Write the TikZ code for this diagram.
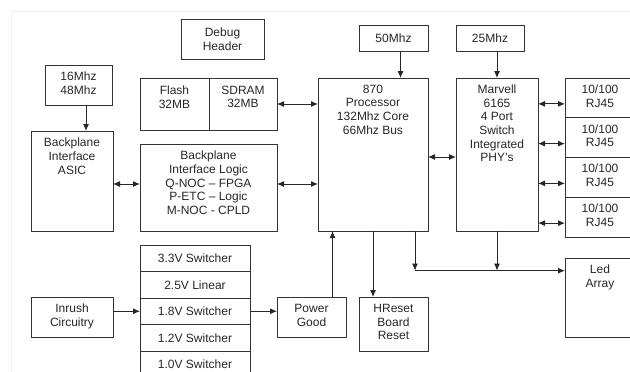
\documentclass[tikz,border=0pt]{standalone}
\usepackage{fontspec}
\setmainfont{Liberation Sans}
\usetikzlibrary{positioning,arrows.meta}

\begin{document}
\begin{tikzpicture}[x=1pt, y=-1pt, >={Latex[length=7pt,width=6pt]},
    every node/.style={font=\fontsize{12}{13.7}\selectfont, text=black!85},
    blk/.style={draw=black!80, line width=1pt, inner sep=0pt, outer sep=0pt, align=center},
    txt/.style={align=center, inner sep=0pt},
    link/.style={draw=black!85, line width=1pt}]

        \useasboundingbox (0,0) rectangle (630,372);
        \clip (0,0) rectangle (630,372);
        \draw[black!6] (11,372) -- (11,11) -- (630,11);

        % ==========================================
        % 1. Clocks and debug
        % ==========================================
        \node[blk, minimum width=83pt, minimum height=40pt] (debug) at (222.5,39) {Debug\\Header};
        \node[blk, minimum width=67pt, minimum height=40pt] (clkA) at (78.5,85) {};
        \node[txt, below=7pt of clkA.north] (tclkA) {16Mhz\\48Mhz};
        \node[blk, minimum width=69pt, minimum height=26pt] (clkB) at (393.5,38) {50Mhz};
        \node[blk, minimum width=68pt, minimum height=26pt] (clkC) at (490,38) {25Mhz};

        % ==========================================
        % 2. Memory and backplane
        % ==========================================
        \node[blk, minimum width=69pt, minimum height=52pt] (flash) at (174.5,104) {};
        \node[txt, below=7.5pt of flash.north] (tflash) {Flash\\32MB};
        \node[blk, minimum width=68pt, minimum height=52pt] (sdram) at (243,104) {};
        \node[txt, below=7.5pt of sdram.north] (tsdram) {SDRAM\\32MB};
        \node[blk, minimum width=82pt, minimum height=100pt] (asic) at (72,181) {};
        \node[txt, below=7pt of asic.north] (tasic) {Backplane\\Interface\\ASIC};
        \node[blk, minimum width=137pt, minimum height=87pt] (bpl) at (208.5,187.5) {};
        \node[txt, below=7pt of bpl.north] (tbpl) {Backplane\\Interface Logic\\Q-NOC -- FPGA\\P-ETC -- Logic\\M-NOC - CPLD};

        % ==========================================
        % 3. Processor, switch and ports
        % ==========================================
        \node[blk, minimum width=110pt, minimum height=153pt] (proc) at (373,154.5) {};
        \node[txt, below=6.5pt of proc.north] (tproc) {870\\Processor\\132Mhz Core\\66Mhz Bus};
        \node[blk, minimum width=82pt, minimum height=153pt] (marv) at (497,154.5) {};
        \node[txt, below=6.5pt of marv.north] (tmarv) {Marvell\\6165\\4 Port\\Switch\\Integrated\\PHY's};
        \foreach \i in {1,...,4} {
            \node[blk, minimum width=70pt, minimum height=39.75pt] (rj\i) at (600,{58.125+39.75*\i}) {};
            \node[txt, below=6.5pt of rj\i.north] (trj\i) {10/100\\RJ45};
        }
        \node[blk, minimum width=70pt, minimum height=79pt] (led) at (600,297.5) {};
        \node[txt, below=7pt of led.north] (tled) {Led\\Array};

        % ==========================================
        % 4. Power and reset
        % ==========================================
        \node[blk, minimum width=82pt, minimum height=40pt] (inrush) at (72,317) {};
        \node[txt, below=7pt of inrush.north] (tinrush) {Inrush\\Circuitry};
        \foreach \t [count=\i] in {3.3V Switcher,2.5V Linear,1.8V Switcher,1.2V Switcher,1.0V Switcher}
            \node[blk, minimum width=110pt, minimum height=26.5pt] (sw\i) at (195,{258.25+26.5*(\i-1)}) {\t};
        \node[blk, minimum width=69pt, minimum height=40pt] (pgood) at (311.5,317) {};
        \node[txt, below=7pt of pgood.north] (tpgood) {Power\\Good};
        \node[blk, minimum width=69pt, minimum height=54pt] (hreset) at (393.5,324) {};
        \node[txt, below=7pt of hreset.north] (threset) {HReset\\Board\\Reset};

        % ==========================================
        % 5. Connections
        % ==========================================
        \coordinate (aclk) at ([xshift=7.5pt]clkA.south);
        \coordinate (bclk) at ([xshift=7pt]clkB.south);
        \coordinate (bplL) at ([yshift=3.5pt]bpl.west);
        \coordinate (bplR) at ([yshift=3.5pt]bpl.east);
        \coordinate (pm) at ([yshift=-2.5pt]proc.east);
        \coordinate (pgup) at ([xshift=21pt]pgood.north);
        \coordinate (pdrop) at ([xshift=42pt]proc.south);
        \coordinate (ledin) at ([yshift=-12.7pt]led.north west);

        \draw[link, ->] (aclk) -- (aclk |- asic.north);
        \draw[link, ->] (bclk) -- (bclk |- proc.north);
        \draw[link, ->] (marv.north |- clkC.south) -- (marv.north);
        \draw[link, <->] (asic.east |- bplL) -- (bplL);
        \draw[link, <->] (sdram.east) -- (sdram.east -| proc.west);
        \draw[link, <->] (bplR) -- (bplR -| proc.west);
        \draw[link, <->] (pm) -- (pm -| marv.west);
        \foreach \i in {1,...,4}
            \draw[link, <->] ([yshift=-6pt]rj\i.west -| marv.east) -- ([yshift=-6pt]rj\i.west);
        \draw[link, ->] (inrush.east |- sw3.west) -- (sw3.west);
        \draw[link, ->] (sw3.east) -- (sw3.east -| pgood.west);
        \draw[link, ->] (pgup) -- (pgup |- proc.south);
        \draw[link, ->] (proc.south) -- (proc.south |- hreset.north);
        \draw[link, ->] (pdrop) -- (pdrop |- ledin);
        \draw[link, ->] (pdrop |- ledin) -- (ledin);
        \draw[link, ->] (marv.south) -- (marv.south |- ledin);

    \end{tikzpicture}
\end{document}
